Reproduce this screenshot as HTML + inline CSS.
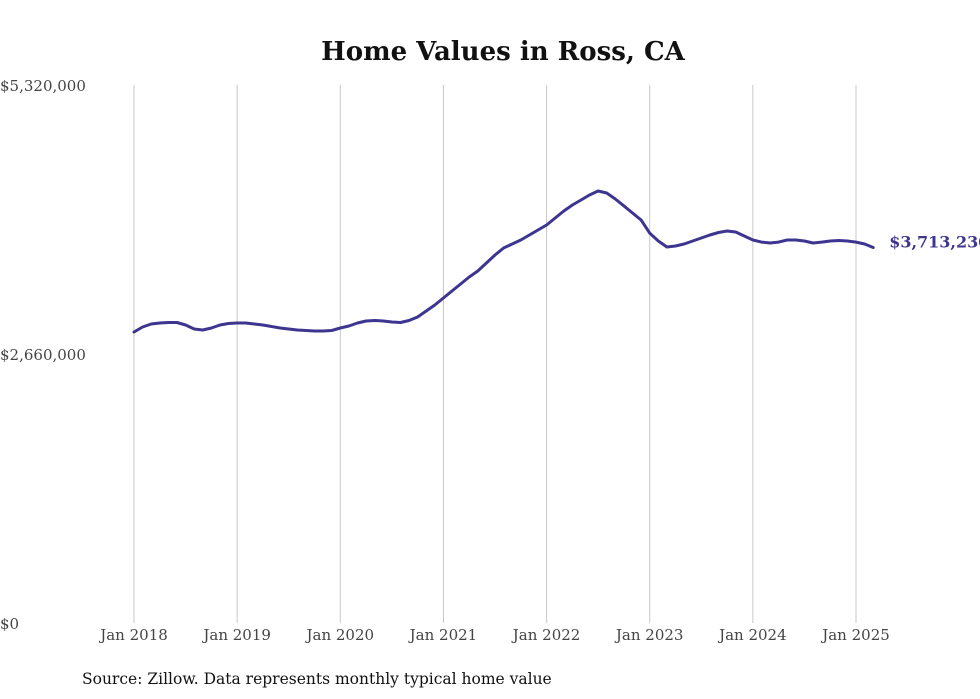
<!DOCTYPE html>
<html><head><meta charset="utf-8"><style>
body{margin:0;background:#fff;width:980px;height:699px;overflow:hidden}
svg{display:block}
</style></head><body>
<svg id="chart" width="980" height="699">
<text x="503" y="60" text-anchor="middle" font-family="DejaVu Serif, serif" font-weight="bold" font-size="26" fill="#111">Home Values in Ross, CA</text>
<g id="grid"></g>
<g id="yaxis"></g>
<g id="xaxis"></g>
<g id="series"></g>
<text x="82" y="684" font-family="DejaVu Serif, serif" font-size="15.5" fill="#111">Source: Zillow. Data represents monthly typical home value</text>
</svg>
<script>
const yTicks=[0,2660000,5320000];
const yTickLabels=["$0","$2,660,000","$5,320,000"];
const xTickYears=[2018,2019,2020,2021,2022,2023,2024,2025];
const xTickLabels=["Jan 2018","Jan 2019","Jan 2020","Jan 2021","Jan 2022","Jan 2023","Jan 2024","Jan 2025"];
const startYear=2018;
// monthly values (thousands of $), Jan 2018 - Mar 2025
const values=[
2878,2927,2957,2967,2971,2971,2947,2907,2897,2917,2947,2962,
2967,2967,2957,2947,2932,2917,2907,2897,2892,2887,2887,2892,
2917,2937,2967,2986,2991,2986,2976,2971,2991,3026,3085,3145,
3214,3283,3352,3421,3481,3560,3639,3708,3748,3787,3837,3886,
3936,4005,4074,4133,4183,4232,4272,4252,4193,4124,4054,3985,
3856,3777,3718,3728,3748,3777,3807,3837,3861,3876,3866,3827,
3787,3767,3758,3767,3787,3787,3777,3758,3767,3777,3782,3777,
3767,3748,3713.23];
const lastLabel="$3,713,230";
const NS="http://www.w3.org/2000/svg";
const x0=134,pxPerMonth=(856-134)/84,yBase=623,yTop=85,yMax=5320000;
const xScale=m=>x0+m*pxPerMonth;
const yScale=v=>yBase-(v/yMax)*(yBase-yTop);
function mk(tag,attrs,parent){const e=document.createElementNS(NS,tag);for(const k in attrs)e.setAttribute(k,attrs[k]);parent.appendChild(e);return e;}
const grid=document.getElementById('grid'),ya=document.getElementById('yaxis'),xa=document.getElementById('xaxis'),se=document.getElementById('series');
xTickYears.forEach((yr,i)=>{
 const x=xScale((yr-startYear)*12);
 const l=mk('line',{x1:x,x2:x,y1:yTop,y2:yBase,stroke:'#c8c8c8','stroke-width':1},grid);
 
 
 const t=mk('text',{x:x,y:640,'text-anchor':'middle','font-family':'DejaVu Serif, serif','font-size':15,fill:'#444'},xa);
 t.textContent=xTickLabels[i];
 
 
});
yTicks.forEach((v,i)=>{
 const t=mk('text',{x:0,y:yScale(v)+6,'font-family':'DejaVu Serif, serif','font-size':15,fill:'#444'},ya);
 t.textContent=yTickLabels[i];
 
 
});
const pts=values.map((v,i)=>xScale(i).toFixed(1)+','+yScale(v*1000).toFixed(1)).join(' ');
const pl=mk('polyline',{points:pts,fill:'none',stroke:'#3d3590','stroke-width':3,'stroke-linejoin':'round','stroke-linecap':'round'},se);


const li=values.length-1;
const lt=mk('text',{x:xScale(li)+16,y:yScale(values[li]*1000),'font-family':'DejaVu Serif, serif','font-size':16,'font-weight':'bold',fill:'#3d3590'},se);
lt.textContent=lastLabel;


</script>
</body></html>
